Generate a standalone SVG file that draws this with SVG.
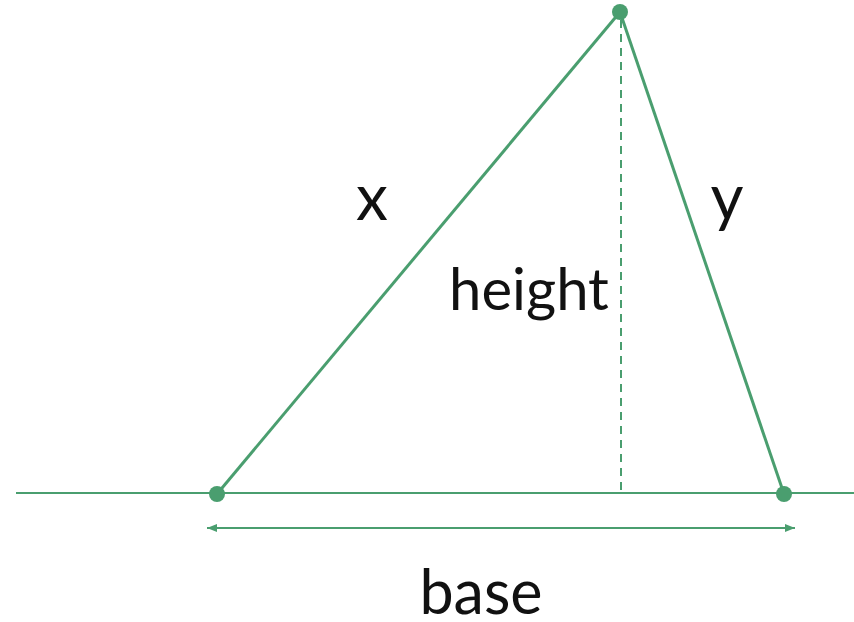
<svg xmlns="http://www.w3.org/2000/svg" width="854" height="622" viewBox="0 0 854 622">
<style>
.ln{stroke:#4a9e6f;fill:none}
.pt{fill:#4a9e6f}
.t{font-family:Lato,"Open Sans",sans-serif;fill:#111;text-anchor:middle}
</style>
<defs>
<marker id="ah" viewBox="0 0 10 10" refX="10" refY="5" markerWidth="12" markerHeight="10" markerUnits="userSpaceOnUse" orient="auto-start-reverse">
<path d="M0,1 L10,5 L0,9 Z" fill="#4a9e6f"/>
</marker>
</defs>
<rect width="854" height="622" fill="#fff"/>
<g id="connectors">
<line class="ln" x1="16" y1="493" x2="854" y2="493" stroke-width="2"/>
<line class="ln" x1="217" y1="494" x2="620" y2="12" stroke-width="3"/>
<line class="ln" x1="620" y1="12" x2="784" y2="494" stroke-width="3"/>
<line class="ln" x1="621" y1="20" x2="621" y2="493" stroke-width="2" stroke-dasharray="8,6"/>
<line class="ln" x1="207" y1="528" x2="795" y2="528" stroke-width="2" marker-start="url(#ah)" marker-end="url(#ah)"/>
</g>
<g id="apex"><circle class="pt" cx="620" cy="12" r="8"/></g>
<g id="left"><circle class="pt" cx="217" cy="494" r="8"/></g>
<g id="right"><circle class="pt" cx="784" cy="494" r="8"/></g>
<g id="labels">
<text class="t" x="372" y="220" font-size="64">x</text>
<text class="t" x="727" y="220" font-size="64">y</text>
<text class="t" x="529" y="310" font-size="58">height</text>
<text class="t" x="481" y="614" font-size="61">base</text>
</g>
</svg>
